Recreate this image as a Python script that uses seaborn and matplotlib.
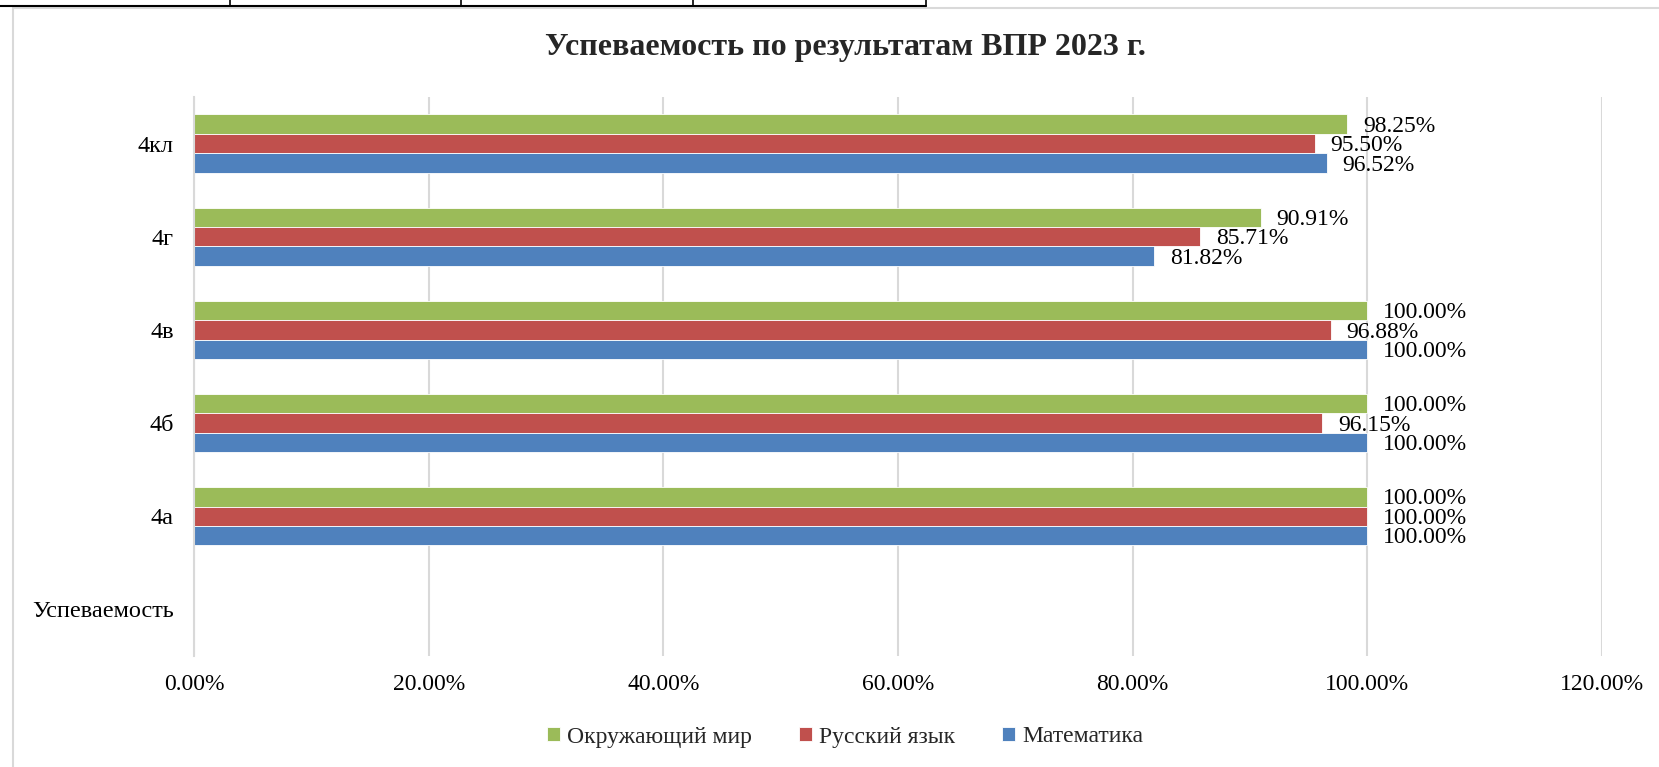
import pandas as pd
import matplotlib.pyplot as plt
import seaborn as sns
from matplotlib.lines import Line2D
from matplotlib.patches import Rectangle
from matplotlib.ticker import FuncFormatter

classes = ["4кл", "4г", "4в", "4б", "4а", "Успеваемость"]
data_classes = ["4кл", "4г", "4в", "4б", "4а"]
subjects = ["Окружающий мир", "Русский язык", "Математика"]
okr_mir = [98.25, 90.91, 100.00, 100.00, 100.00]
russkiy = [95.50, 85.71, 96.88, 96.15, 100.00]
matem = [96.52, 81.82, 100.00, 100.00, 100.00]
colors = ["#9BBB59", "#C0504D", "#4F81BD"]

rows = []
for subj, vals in zip(subjects, [okr_mir, russkiy, matem]):
    for cls, v in zip(data_classes, vals):
        rows.append({"class": cls, "subject": subj, "value": v})
df = pd.DataFrame(rows)

sns.set_theme(style="white")
plt.rcParams["font.family"] = ["Liberation Serif", "DejaVu Serif"]

fig = plt.figure(figsize=(16.59, 7.67), dpi=100)
ax = fig.add_axes([194 / 1659, 1 - 656 / 767, 1408 / 1659, 559 / 767])

sns.barplot(data=df, x="value", y="class", hue="subject", order=classes,
            hue_order=subjects, palette=colors, saturation=1, orient="h", width=0.625,
            edgecolor="white", linewidth=0.6, ax=ax, legend=True)

for cont in ax.containers:
    for t in ax.bar_label(cont, fmt="%.2f%%", padding=11.5, fontsize=17, color="black"):
        t.xyann = (t.xyann[0], -1.5)  # labels sit a bit below bar centre

ax.set_xlim(0, 120)
ax.set_xticks(range(0, 121, 20))
ax.xaxis.set_major_formatter(FuncFormatter(lambda v, p: f"{v:.2f}%"))
ax.grid(axis="x", color="#D9D9D9", linewidth=1.5)
ax.set_axisbelow(True)
for s in ["top", "right", "bottom"]:
    ax.spines[s].set_visible(False)
ax.spines["left"].set_color("#D9D9D9")
ax.spines["left"].set_linewidth(1.5)
ax.tick_params(axis="x", length=0, labelsize=17, colors="black", pad=13)
ax.tick_params(axis="y", length=0, labelsize=17.5, colors="black", pad=14.5)
ax.set_xlabel("")
ax.set_ylabel("")

handles, labels = ax.get_legend_handles_labels()
ax.legend_.remove()
fig.legend(handles, labels, loc="center", bbox_to_anchor=(845 / 1659, 1 - 737 / 767),
           ncol=3, frameon=False, fontsize=17, handlelength=0.55, handleheight=0.55,
           handletextpad=0.3, columnspacing=2.0)

fig.text(845 / 1659, 1 - 48 / 767, "Успеваемость по результатам ВПР 2023 г.",
         ha="center", va="center", fontsize=23, fontweight="bold")

# chart frame and the table strip above it
fig.add_artist(Rectangle((13 / 1659, -0.01), 1.0, 1 - 8 / 767 + 0.01,
                         transform=fig.transFigure, fill=False,
                         edgecolor="#D9D9D9", linewidth=1.5))
fig.add_artist(Line2D([0, 926 / 1659], [1 - 6 / 767] * 2, color="black", linewidth=1.5,
                      transform=fig.transFigure))
for xv in [230, 461, 693, 926]:
    fig.add_artist(Line2D([xv / 1659] * 2, [1 - 6 / 767, 1], color="black", linewidth=1.2,
                          transform=fig.transFigure))

fig.savefig("out.png", dpi=100)
